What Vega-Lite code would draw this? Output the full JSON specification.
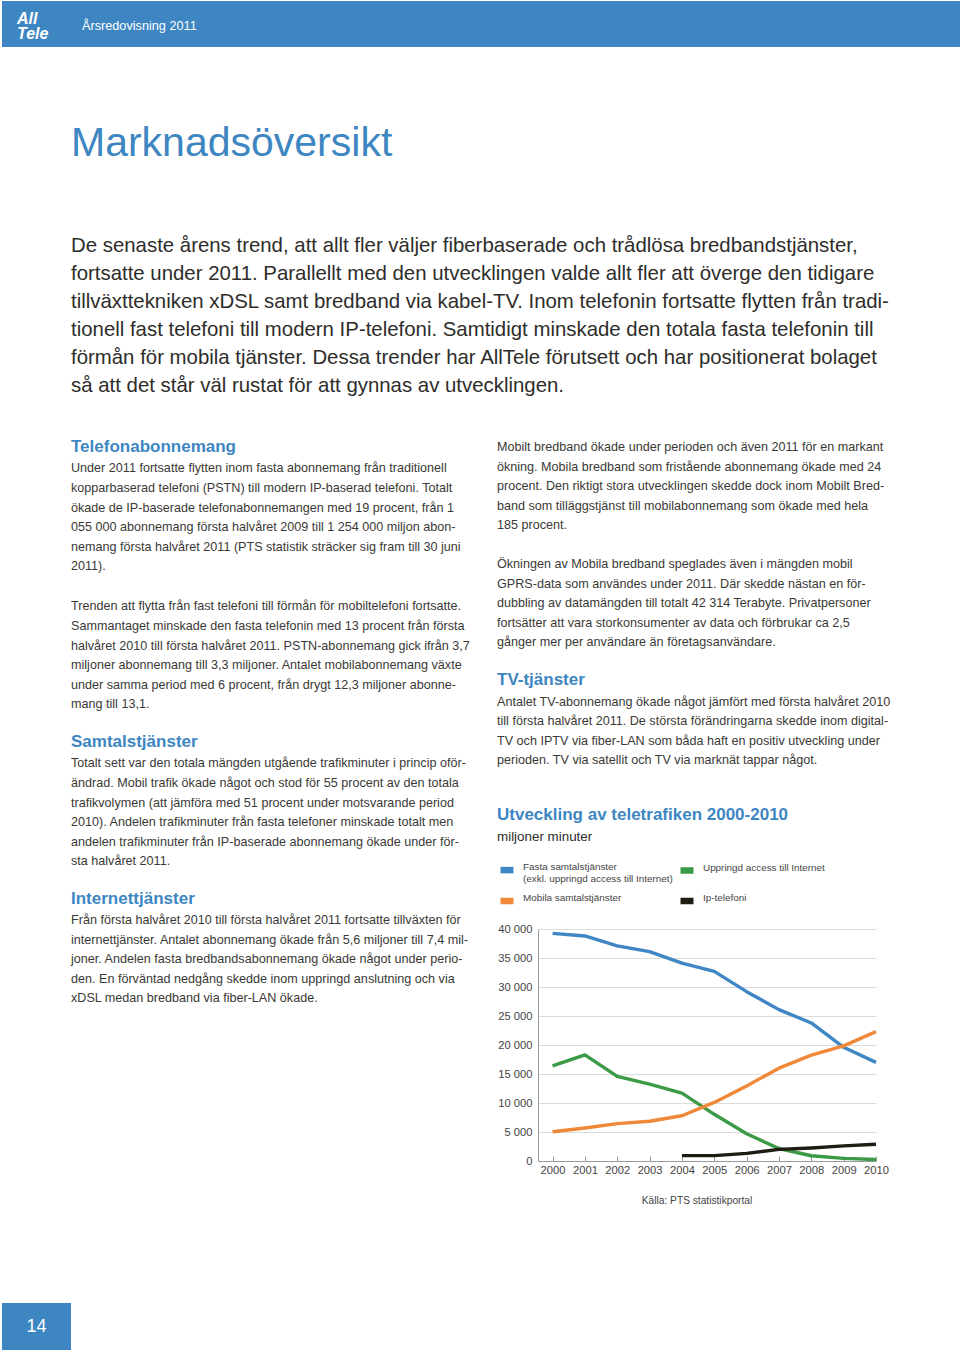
{
  "$schema": "https://vega.github.io/schema/vega-lite/v6.json",
  "padding": {"left": 2, "top": 1, "right": 0, "bottom": 0},
  "background": "white",
  "spacing": 0,
  "resolve": {"scale": {"color": "independent"}, "legend": {"color": "independent"}},
  "config": {
    "font": "Liberation Sans",
    "view": {"stroke": null},
    "concat": {"spacing": 0}
  },
  "vconcat": [
    {
      "hconcat": [
        {
          "width": 70, "height": 46,
          "view": {"fill": "#3d86c2", "stroke": null},
          "data": {"values": []},
          "mark": "point",
          "title": {"text": ["All", "Tele"], "orient": "bottom", "offset": -36, "anchor": "start", "frame": "group", "dx": 15,
            "color": "white", "fontSize": 16, "fontWeight": "bold", "fontStyle": "italic", "lineHeight": 15}
        },
        {
          "width": 888, "height": 46,
          "view": {"fill": "#3d86c2", "stroke": null},
          "data": {"values": []},
          "mark": "point",
          "title": {"text": "Årsredovisning 2011", "orient": "bottom", "offset": -26.7, "anchor": "start", "frame": "group", "dx": 10,
            "color": "white", "fontSize": 12.7, "fontWeight": "normal"}
        }
      ],
      "spacing": 0
    },
    {
      "width": 958, "height": 70,
      "data": {"values": []},
      "mark": "point",
      "title": {
        "text": "Marknadsöversikt",
        "orient": "bottom", "offset": 6.6, "anchor": "start", "frame": "group", "dx": 69,
        "fontSize": 41, "fontWeight": "normal", "color": "#3d86c2",
        "subtitle": [
          "De senaste årens trend, att allt fler väljer fiberbaserade och trådlösa bredbandstjänster,",
          "fortsatte under 2011. Parallellt med den utvecklingen valde allt fler att överge den tidigare",
          "tillväxttekniken xDSL samt bredband via kabel-TV. Inom telefonin fortsatte flytten från tradi-",
          "tionell fast telefoni till modern IP-telefoni. Samtidigt minskade den totala fasta telefonin till",
          "förmån för mobila tjänster. Dessa trender har AllTele förutsett och har positionerat bolaget",
          "så att det står väl rustat för att gynnas av utvecklingen."
        ],
        "subtitleFontSize": 20.4, "subtitleLineHeight": 28, "subtitleColor": "#2e2d2a", "subtitleFontWeight": "normal", "subtitlePadding": 71
      }
    },
    {"width": 1, "height": 41, "data": {"values": []}, "mark": "point"},
    {
      "resolve": {"scale": {"color": "independent"}, "legend": {"color": "independent"}},
      "hconcat": [
        {"width": 63, "height": 1, "data": {"values": []}, "mark": "point"},
        {
          "vconcat": [
            {"width": 1, "height": 1, "data": {"values": []}, "mark": "point"},
            {
              "width": 420, "height": 25.6,
              "data": {"values": []},
              "mark": "point",
              "title": {
                "text": "Telefonabonnemang",
                "subtitle": [
                  "Under 2011 fortsatte flytten inom fasta abonnemang från traditionell",
                  "kopparbaserad telefoni (PSTN) till modern IP-baserad telefoni. Totalt",
                  "ökade de IP-baserade telefonabonnemangen med 19 procent, från 1",
                  "055 000 abonnemang första halvåret 2009 till 1 254 000 miljon abon-",
                  "nemang första halvåret 2011 (PTS statistik sträcker sig fram till 30 juni",
                  "2011)."
                ],
                "orient": "top", "offset": 0, "anchor": "start", "frame": "group",
                "fontSize": 17, "fontWeight": "bold", "color": "#3d86c2",
                "subtitleFontSize": 12.6, "subtitleFontWeight": "normal", "subtitleColor": "#3a3935", "subtitleLineHeight": 19.6, "subtitlePadding": 6.3
              }
            },
            {
              "width": 420, "height": 22,
              "data": {"values": []},
              "mark": "point",
              "title": {
                "text": "Trenden att flytta från fast telefoni till förmån för mobiltelefoni fortsatte.",
                "subtitle": [
                  "Sammantaget minskade den fasta telefonin med 13 procent från första",
                  "halvåret 2010 till första halvåret 2011. PSTN-abonnemang gick ifrån 3,7",
                  "miljoner abonnemang till 3,3 miljoner. Antalet mobilabonnemang växte",
                  "under samma period med 6 procent, från drygt 12,3 miljoner abonne-",
                  "mang till 13,1."
                ],
                "orient": "top", "offset": 0, "anchor": "start", "frame": "group",
                "fontSize": 12.6, "fontWeight": "normal", "color": "#3a3935",
                "subtitleFontSize": 12.6, "subtitleFontWeight": "normal", "subtitleColor": "#3a3935", "subtitleLineHeight": 19.6, "subtitlePadding": 7
              }
            },
            {
              "width": 420, "height": 20,
              "data": {"values": []},
              "mark": "point",
              "title": {
                "text": "Samtalstjänster",
                "subtitle": [
                  "Totalt sett var den totala mängden utgående trafikminuter i princip oför-",
                  "ändrad. Mobil trafik ökade något och stod för 55 procent av den totala",
                  "trafikvolymen (att jämföra med 51 procent under motsvarande period",
                  "2010). Andelen trafikminuter från fasta telefoner minskade totalt men",
                  "andelen trafikminuter från IP-baserade abonnemang ökade under för-",
                  "sta halvåret 2011."
                ],
                "orient": "top", "offset": 0, "anchor": "start", "frame": "group",
                "fontSize": 17, "fontWeight": "bold", "color": "#3d86c2",
                "subtitleFontSize": 12.6, "subtitleFontWeight": "normal", "subtitleColor": "#3a3935", "subtitleLineHeight": 19.6, "subtitlePadding": 6.3
              }
            },
            {
              "width": 420, "height": 1,
              "data": {"values": []},
              "mark": "point",
              "title": {
                "text": "Internettjänster",
                "subtitle": [
                  "Från första halvåret 2010 till första halvåret 2011 fortsatte tillväxten för",
                  "internettjänster. Antalet abonnemang ökade från 5,6 miljoner till 7,4 mil-",
                  "joner. Andelen fasta bredbandsabonnemang ökade något under perio-",
                  "den. En förväntad nedgång skedde inom uppringd anslutning och via",
                  "xDSL medan bredband via fiber-LAN ökade."
                ],
                "orient": "top", "offset": 0, "anchor": "start", "frame": "group",
                "fontSize": 17, "fontWeight": "bold", "color": "#3d86c2",
                "subtitleFontSize": 12.6, "subtitleFontWeight": "normal", "subtitleColor": "#3a3935", "subtitleLineHeight": 19.6, "subtitlePadding": 6.3
              }
            }
          ],
          "spacing": 0
        },
        {
          "resolve": {"scale": {"color": "independent"}, "legend": {"color": "independent"}},
          "vconcat": [
            {"width": 1, "height": 4, "data": {"values": []}, "mark": "point"},
            {
              "width": 400, "height": 25.6,
              "data": {"values": []},
              "mark": "point",
              "title": {
                "text": "Mobilt bredband ökade under perioden och även 2011 för en markant",
                "subtitle": [
                  "ökning. Mobila bredband som fristående abonnemang ökade med 24",
                  "procent. Den riktigt stora utvecklingen skedde dock inom Mobilt Bred-",
                  "band som tilläggstjänst till mobilabonnemang som ökade med hela",
                  "185 procent."
                ],
                "orient": "top", "offset": 0, "anchor": "start", "frame": "group", "dx": -41,
                "fontSize": 12.6, "fontWeight": "normal", "color": "#3a3935",
                "subtitleFontSize": 12.6, "subtitleFontWeight": "normal", "subtitleColor": "#3a3935", "subtitleLineHeight": 19.6, "subtitlePadding": 7
              }
            },
            {
              "width": 400, "height": 22,
              "data": {"values": []},
              "mark": "point",
              "title": {
                "text": "Ökningen av Mobila bredband speglades även i mängden mobil",
                "subtitle": [
                  "GPRS-data som användes under 2011. Där skedde nästan en för-",
                  "dubbling av datamängden till totalt 42 314 Terabyte.  Privatpersoner",
                  "fortsätter att vara storkonsumenter av data och förbrukar ca 2,5",
                  "gånger mer per användare än företagsanvändare."
                ],
                "orient": "top", "offset": 0, "anchor": "start", "frame": "group", "dx": -41,
                "fontSize": 12.6, "fontWeight": "normal", "color": "#3a3935",
                "subtitleFontSize": 12.6, "subtitleFontWeight": "normal", "subtitleColor": "#3a3935", "subtitleLineHeight": 19.6, "subtitlePadding": 7
              }
            },
            {
              "width": 400, "height": 37,
              "data": {"values": []},
              "mark": "point",
              "title": {
                "text": "TV-tjänster",
                "subtitle": [
                  "Antalet TV-abonnemang ökade något jämfört med första halvåret 2010",
                  "till första halvåret 2011. De största förändringarna skedde inom digital-",
                  "TV och IPTV via fiber-LAN som båda haft en positiv utveckling under",
                  "perioden. TV via satellit och TV via marknät tappar något."
                ],
                "orient": "top", "offset": 0, "anchor": "start", "frame": "group", "dx": -41,
                "fontSize": 17, "fontWeight": "bold", "color": "#3d86c2",
                "subtitleFontSize": 12.6, "subtitleFontWeight": "normal", "subtitleColor": "#3a3935", "subtitleLineHeight": 19.6, "subtitlePadding": 6.3
              }
            },
            {
              "width": 338, "height": 232,
              "title": {
                "text": "Utveckling av teletrafiken 2000-2010",
                "subtitle": "miljoner minuter",
                "orient": "top", "offset": 16, "anchor": "start", "frame": "bounds",
                "fontSize": 17, "fontWeight": "bold", "color": "#3d86c2",
                "subtitleFontSize": 13.4, "subtitleFontWeight": "normal", "subtitleColor": "#2e2d2a", "subtitlePadding": 5.9
              },
              "data": {
                "values": [
                  {"year": 2000, "serie": "Fasta samtalstjänster", "value": 39250},
                  {"year": 2001, "serie": "Fasta samtalstjänster", "value": 38800},
                  {"year": 2002, "serie": "Fasta samtalstjänster", "value": 37100},
                  {"year": 2003, "serie": "Fasta samtalstjänster", "value": 36100},
                  {"year": 2004, "serie": "Fasta samtalstjänster", "value": 34100},
                  {"year": 2005, "serie": "Fasta samtalstjänster", "value": 32700},
                  {"year": 2006, "serie": "Fasta samtalstjänster", "value": 29200},
                  {"year": 2007, "serie": "Fasta samtalstjänster", "value": 26100},
                  {"year": 2008, "serie": "Fasta samtalstjänster", "value": 23800},
                  {"year": 2009, "serie": "Fasta samtalstjänster", "value": 19600},
                  {"year": 2010, "serie": "Fasta samtalstjänster", "value": 17000},
                  {"year": 2000, "serie": "Uppringd access till Internet", "value": 16400},
                  {"year": 2001, "serie": "Uppringd access till Internet", "value": 18300},
                  {"year": 2002, "serie": "Uppringd access till Internet", "value": 14600},
                  {"year": 2003, "serie": "Uppringd access till Internet", "value": 13250},
                  {"year": 2004, "serie": "Uppringd access till Internet", "value": 11700},
                  {"year": 2005, "serie": "Uppringd access till Internet", "value": 8050},
                  {"year": 2006, "serie": "Uppringd access till Internet", "value": 4700},
                  {"year": 2007, "serie": "Uppringd access till Internet", "value": 2150},
                  {"year": 2008, "serie": "Uppringd access till Internet", "value": 900},
                  {"year": 2009, "serie": "Uppringd access till Internet", "value": 450},
                  {"year": 2010, "serie": "Uppringd access till Internet", "value": 250},
                  {"year": 2000, "serie": "Mobila samtalstjänster", "value": 5050},
                  {"year": 2001, "serie": "Mobila samtalstjänster", "value": 5700},
                  {"year": 2002, "serie": "Mobila samtalstjänster", "value": 6450},
                  {"year": 2003, "serie": "Mobila samtalstjänster", "value": 6850},
                  {"year": 2004, "serie": "Mobila samtalstjänster", "value": 7800},
                  {"year": 2005, "serie": "Mobila samtalstjänster", "value": 10100},
                  {"year": 2006, "serie": "Mobila samtalstjänster", "value": 12950},
                  {"year": 2007, "serie": "Mobila samtalstjänster", "value": 16000},
                  {"year": 2008, "serie": "Mobila samtalstjänster", "value": 18250},
                  {"year": 2009, "serie": "Mobila samtalstjänster", "value": 19850},
                  {"year": 2010, "serie": "Mobila samtalstjänster", "value": 22300},
                  {"year": 2004, "serie": "Ip-telefoni", "value": 920},
                  {"year": 2005, "serie": "Ip-telefoni", "value": 920},
                  {"year": 2006, "serie": "Ip-telefoni", "value": 1320},
                  {"year": 2007, "serie": "Ip-telefoni", "value": 2000},
                  {"year": 2008, "serie": "Ip-telefoni", "value": 2250},
                  {"year": 2009, "serie": "Ip-telefoni", "value": 2600},
                  {"year": 2010, "serie": "Ip-telefoni", "value": 2900}
                ]
              },
              "mark": {"type": "line", "strokeWidth": 3.4, "interpolate": "linear", "strokeJoin": "round"},
              "encoding": {
                "x": {
                  "field": "year", "type": "quantitative",
                  "scale": {"domain": [1999.55, 2010], "nice": false, "zero": false},
                  "axis": {
                    "values": [2000, 2001, 2002, 2003, 2004, 2005, 2006, 2007, 2008, 2009, 2010],
                    "format": "d", "grid": false, "labelFlush": false, "labelOverlap": false,
                    "domainColor": "#9a9a9a", "tickColor": "#9a9a9a", "tickSize": -5, "labelPadding": 8,
                    "labelFontSize": 11.2, "labelColor": "#444444",
                    "title": "Källa: PTS statistikportal", "titleFontSize": 10.2, "titleFontWeight": "normal",
                    "titleColor": "#444444", "titlePadding": 20.6, "titleX": 158.5
                  }
                },
                "y": {
                  "field": "value", "type": "quantitative",
                  "scale": {"domain": [0, 40000], "nice": false},
                  "axis": {
                    "values": [0, 5000, 10000, 15000, 20000, 25000, 30000, 35000, 40000],
                    "labelExpr": "datum.value == 0 ? '0' : floor(datum.value / 1000) + ' 000'",
                    "ticks": false, "grid": true, "gridColor": "#dcdcdc",
                    "domainColor": "#9a9a9a", "labelPadding": 6,
                    "labelFontSize": 11.2, "labelColor": "#444444", "title": null
                  }
                },
                "color": {
                  "field": "serie", "type": "nominal",
                  "scale": {
                    "domain": ["Fasta samtalstjänster", "Mobila samtalstjänster", "Uppringd access till Internet", "Ip-telefoni"],
                    "range": ["#3f87c4", "#ef8838", "#3a9a45", "#1f1c14"]
                  },
                  "legend": {
                    "orient": "none", "legendX": -41, "legendY": -69,
                    "columns": 2, "title": null, "padding": 0,
                    "symbolType": "stroke", "symbolStrokeWidth": 6.5, "symbolSize": 169,
                    "labelOffset": 6, "labelFontSize": 9.9, "labelColor": "#444444", "labelBaseline": "alphabetic",
                    "labelLimit": 300, "columnPadding": -6, "rowPadding": 4,
                    "labelExpr": "datum.label == 'Fasta samtalstjänster' ? ['Fasta samtalstjänster', '(exkl. uppringd access till Internet)'] : datum.label"
                  }
                }
              }
            }
          ],
          "spacing": 0
        }
      ],
      "spacing": 6
    },
    {"width": 1, "height": 97, "data": {"values": []}, "mark": "point"},
    {
      "width": 69, "height": 47,
      "view": {"fill": "#3d86c2", "stroke": null},
      "data": {"values": []},
      "mark": "point",
      "title": {"text": "14", "orient": "bottom", "offset": -31.7, "anchor": "middle", "frame": "group",
        "color": "white", "fontSize": 18, "fontWeight": "normal"}
    }
  ]
}
